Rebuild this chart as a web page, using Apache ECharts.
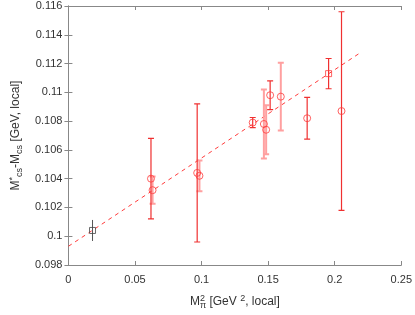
<!DOCTYPE html>
<html><head><meta charset="utf-8">
<script src="https://cdn.jsdelivr.net/npm/echarts@6/dist/echarts.min.js"></script>
<style>html,body{margin:0;padding:0;background:#fff}#c{width:415px;height:315px}</style>
</head><body><div id="c"></div>
<script>
// Reference (black) point
const refX = [0.0181];
const refY = [0.1004];
const refErr = [0.00073];
// Red circles, darker error bars
const aX = [0.0620, 0.0967, 0.1384, 0.1515, 0.1793, 0.2051];
const aY = [0.1040, 0.1044, 0.1079, 0.1098, 0.1082, 0.1087];
const aErr = [0.0028, 0.0048, 0.00035, 0.0010, 0.00145, 0.0069];
// Red circles, lighter error bars
const bX = [0.0632, 0.0984, 0.1468, 0.1485, 0.1595];
const bY = [0.1032, 0.1042, 0.1078, 0.1074, 0.1097];
const bErr = [0.00095, 0.00107, 0.0024, 0.0017, 0.00235];
// Red square point
const sX = [0.1954];
const sY = [0.1113];
const sErr = [0.00105];
// Linear fit line endpoints
const fitX = [0, 0.22];
const fitY = [0.0993, 0.1128];
// Ticks
const xTicks = [0, 0.05, 0.1, 0.15, 0.2, 0.25];
const yTicks = [0.098, 0.1, 0.102, 0.104, 0.106, 0.108, 0.11, 0.112, 0.114, 0.116];

const RED = '#f03030';
const FONT = 'Liberation Sans, Arial, sans-serif';

function pts(xs, ys, es) { return xs.map((x, i) => [x, ys[i], es[i]]); }
function errSeries(name, data, color, width, cap) {
  return {
    type: 'custom', name: name, data: data, z: 3, silent: true,
    itemStyle: {color: color},
    renderItem: function (params, api) {
      const x = api.value(0), y = api.value(1), e = api.value(2);
      const top = api.coord([x, y + e]), bot = api.coord([x, y - e]);
      const cx = top[0], t = top[1], b = bot[1];
      const p = cap
        ? [[cx - 3, t], [cx + 3, t], [cx, t], [cx, b], [cx - 3, b], [cx + 3, b]]
        : [[cx, t], [cx, b]];
      return {type: 'polyline', shape: {points: p},
              style: {stroke: color, lineWidth: width, fill: 'none'}};
    }
  };
}
function markSeries(xs, ys, symbol, color, size) {
  return {
    type: 'scatter', data: xs.map((x, i) => [x, ys[i]]), symbol: symbol, symbolSize: size, z: 4, silent: true,
    itemStyle: {color: 'rgba(255,255,255,0)', borderColor: color, borderWidth: 1},
    emphasis: {disabled: true}
  };
}
const fmt = v => String(parseFloat(v.toFixed(3)));
const axisCommon = {
  axisLine: {show: true, lineStyle: {color: '#888', width: 1}},
  axisTick: {show: true, inside: true, length: 4, lineStyle: {color: '#888'}},
  splitLine: {show: false}
};
const chart = echarts.init(document.getElementById('c'));
chart.setOption({
  animation: false,
  grid: {left: 66, right: 12, top: 6, bottom: 45},
  xAxis: [
    Object.assign({type: 'value', min: xTicks[0], max: xTicks[xTicks.length - 1], interval: 0.05,
      axisLabel: {color: '#333', fontSize: 11, fontFamily: FONT, margin: 9, formatter: fmt},
      name: '{n|M}{sup|2}{sub|π}{n| [GeV }{sup2|2}{n|, local]}', nameLocation: 'middle', nameGap: 29,
      nameTextStyle: {rich: {
        n: {fontSize: 12, fontFamily: FONT, color: '#333', lineHeight: 16, verticalAlign: 'middle'},
        sup: {fontSize: 9, fontFamily: FONT, color: '#333', lineHeight: 9, verticalAlign: 'top'},
        sup2: {fontSize: 9, fontFamily: FONT, color: '#333', lineHeight: 9, verticalAlign: 'top'},
        sub: {fontSize: 9, fontFamily: FONT, color: '#333', lineHeight: 9, verticalAlign: 'bottom', padding: [0, 0, 0, -5]}
      }}
    }, axisCommon),
    Object.assign({type: 'value', position: 'top', min: xTicks[0], max: xTicks[xTicks.length - 1], interval: 0.05,
      axisLabel: {show: false}}, axisCommon)
  ],
  yAxis: [
    Object.assign({type: 'value', min: yTicks[0], max: yTicks[yTicks.length - 1], interval: 0.002,
      axisLabel: {color: '#333', fontSize: 11, fontFamily: FONT, margin: 6, formatter: fmt},
      name: '{n|M}{sup|*}{sub|cs}{n|-M}{sub|cs}{n| [GeV, local]}', nameLocation: 'middle', nameGap: 42,
      nameTextStyle: {rich: {
        n: {fontSize: 12, fontFamily: FONT, color: '#333', lineHeight: 16, verticalAlign: 'middle'},
        sup: {fontSize: 9, fontFamily: FONT, color: '#333', lineHeight: 9, verticalAlign: 'top'},
        sub: {fontSize: 9, fontFamily: FONT, color: '#333', lineHeight: 9, verticalAlign: 'bottom'}
      }}
    }, axisCommon),
    Object.assign({type: 'value', position: 'right', min: yTicks[0], max: yTicks[yTicks.length - 1], interval: 0.002,
      axisLabel: {show: false}}, axisCommon)
  ],
  series: [
    {type: 'line', data: fitX.map((x, i) => [x, fitY[i]]), symbol: 'none', z: 2, silent: true,
     lineStyle: {color: '#ff3b3b', width: 1, type: [4, 4]}},
    errSeries('light', pts(bX, bY, bErr), '#ffa0a0', 2, true),
    errSeries('dark', pts(aX.concat(sX), aY.concat(sY), aErr.concat(sErr)), RED, 1.2, true),
    errSeries('ref', pts(refX, refY, refErr), '#555555', 1, false),
    markSeries(refX, refY, 'rect', '#444', 6),
    markSeries(aX, aY, 'circle', '#ff3b3b', 7),
    markSeries(bX, bY, 'circle', '#ff3b3b', 7),
    markSeries(sX, sY, 'rect', '#ff3b3b', 6)
  ]
});
</script></body></html>
